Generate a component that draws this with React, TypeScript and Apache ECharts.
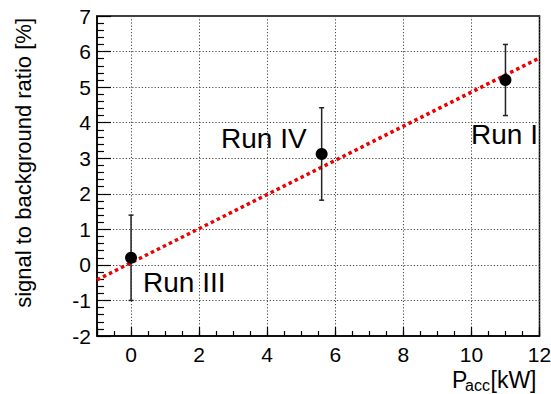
import React, { useEffect, useRef } from "react";
import * as echarts from "echarts";

const runNames = ["Run III", "Run IV", "Run I"];
const power = [0, 5.6, 11];
const ratio = [0.2, 3.12, 5.2];
const errors = [1.2, 1.3, 1.0];
const fitX = [-1, 12];
const fitY = [-0.42, 5.82];
const xTickLabels = [0, 2, 4, 6, 8, 10, 12];

const FONT = "Liberation Sans, Arial, Helvetica, sans-serif";

export default function App() {
  const ref = useRef<HTMLDivElement>(null);
  useEffect(() => {
    if (!ref.current) return;
    const chart = echarts.init(ref.current, undefined, { renderer: "svg" });
    const points = power.map((x, i) => [x, ratio[i]]);
    const errData = power.map((x, i) => [x, ratio[i] - errors[i], ratio[i] + errors[i]]);
    const fitData = fitX.map((x, i) => [x, fitY[i]]);
    const gridLine = { show: true, lineStyle: { color: "#444", width: 1, type: [1.2, 2] as number[] } };
    chart.setOption({
      animation: false,
      backgroundColor: "#fff",
      grid: {
        left: 97,
        right: 11.5,
        top: 16,
        bottom: 58,
        show: true,
        borderColor: "#000",
        borderWidth: 1.5,
        outerBoundsMode: "none",
      },
      xAxis: [
        {
          type: "value",
          min: -1,
          max: 12,
          interval: 0.5,
          axisLine: { show: true, onZero: false, lineStyle: { color: "#000", width: 1.5 } },
          axisTick: { show: true, inside: true, length: 5, lineStyle: { color: "#000", width: 1.2 } },
          axisLabel: {
            show: true,
            color: "#000",
            fontSize: 21,
            fontFamily: FONT,
            margin: 8,
            formatter: (v: number) => (xTickLabels.indexOf(v) >= 0 ? String(v) : ""),
          },
          splitLine: { show: false },
        },
        {
          type: "value",
          min: -1,
          max: 12,
          splitNumber: 7,
          position: "bottom",
          axisLine: { show: false, onZero: false },
          axisTick: { show: true, inside: true, length: 9, lineStyle: { color: "#000", width: 1.2 } },
          axisLabel: { show: false },
          splitLine: gridLine,
        },
      ],
      yAxis: [
        {
          type: "value",
          min: -2,
          max: 7,
          interval: 1,
          axisLine: { show: true, onZero: false, lineStyle: { color: "#000", width: 1.5 } },
          axisTick: { show: true, inside: true, length: 14, lineStyle: { color: "#000", width: 1.2 } },
          minorTick: { show: true, splitNumber: 5, length: 7, lineStyle: { color: "#000", width: 1.2 } },
          axisLabel: { color: "#000", fontSize: 21, fontFamily: FONT, margin: 6 },
          splitLine: gridLine,
        },
      ],
      series: [
        {
          type: "line",
          data: fitData,
          showSymbol: false,
          symbol: "none",
          lineStyle: { color: "#ee0000", width: 3.5, type: [3.5, 3.2], cap: "butt" },
          z: 2,
        },
        {
          type: "custom",
          data: errData,
          z: 3,
          renderItem: (params: any, api: any) => {
            const x = api.value(0);
            const lo = api.coord([x, api.value(1)]);
            const hi = api.coord([x, api.value(2)]);
            const style = { stroke: "#222", lineWidth: 1.5 };
            return {
              type: "group",
              children: [
                { type: "line", shape: { x1: lo[0], y1: lo[1], x2: hi[0], y2: hi[1] }, style },
                { type: "line", shape: { x1: lo[0] - 2.5, y1: lo[1], x2: lo[0] + 2.5, y2: lo[1] }, style },
                { type: "line", shape: { x1: hi[0] - 2.5, y1: hi[1], x2: hi[0] + 2.5, y2: hi[1] }, style },
              ],
            };
          },
        },
        {
          type: "scatter",
          data: points,
          symbol: "circle",
          symbolSize: 12,
          itemStyle: { color: "#000", opacity: 1 },
          z: 4,
        },
      ],
      graphic: [
        {
          type: "text",
          x: 23,
          y: 18,
          rotation: Math.PI / 2,
          style: {
            text: "signal to background ratio [%]",
            fontSize: 22,
            fontFamily: FONT,
            fill: "#000",
            align: "right",
            verticalAlign: "middle",
          },
        },
        { type: "text", x: 452, y: 379.5, style: { text: "P", fontSize: 23, fontFamily: FONT, fill: "#000", align: "left", verticalAlign: "middle" } },
        { type: "text", x: 465, y: 385.5, style: { text: "acc", fontSize: 16, fontFamily: FONT, fill: "#000", align: "left", verticalAlign: "middle" } },
        { type: "text", x: 490.5, y: 379.5, style: { text: "[kW]", fontSize: 23, fontFamily: FONT, fill: "#000", align: "left", verticalAlign: "middle" } },
        { type: "text", x: 143, y: 282, style: { text: runNames[0], fontSize: 28, fontFamily: FONT, fill: "#000", align: "left", verticalAlign: "middle" } },
        { type: "text", x: 221, y: 138.5, style: { text: runNames[1], fontSize: 28, fontFamily: FONT, fill: "#000", align: "left", verticalAlign: "middle" } },
        { type: "text", x: 471, y: 134, style: { text: runNames[2], fontSize: 28, fontFamily: FONT, fill: "#000", align: "left", verticalAlign: "middle" } },
      ],
    });
    return () => chart.dispose();
  }, []);
  return (
    <div
      ref={ref}
      style={{ position: "fixed", left: 0, top: 0, width: 551, height: 394, background: "#fff" }}
    />
  );
}
